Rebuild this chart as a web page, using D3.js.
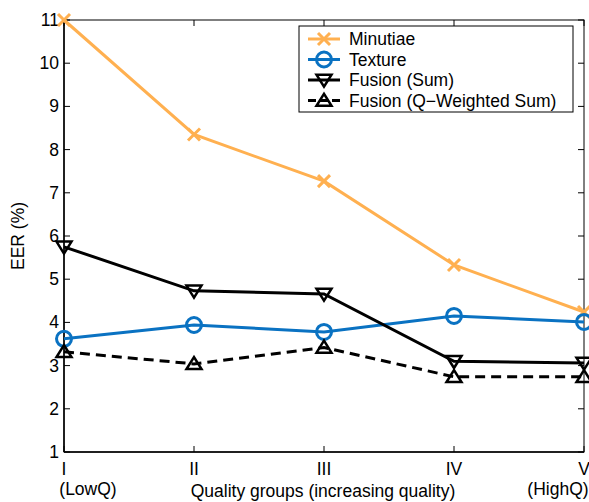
<!DOCTYPE html>
<html>
<head>
<meta charset="utf-8">
<script src="https://cdn.jsdelivr.net/npm/d3@7"></script>
<style>
  body { margin: 0; background: #fff; }
  svg { font-family: "Liberation Sans", Arial, sans-serif; }
</style>
</head>
<body>
<svg id="chart" width="589" height="502"></svg>
<script>
// Data
const groups = ['I', 'II', 'III', 'IV', 'V'];
const minutiae = [11.0, 8.35, 7.27, 5.33, 4.24];
const texture = [3.62, 3.94, 3.78, 4.15, 4.01];
const fusionSum = [5.75, 4.73, 4.66, 3.10, 3.06];
const fusionQW = [3.32, 3.04, 3.42, 2.74, 2.74];
const yTicks = [1, 2, 3, 4, 5, 6, 7, 8, 9, 10, 11];
const subLabels = ['(LowQ)', '', '', '', '(HighQ)'];

const svg = d3.select('#chart');
const mLeft = 64, mRight = 584, mTop = 20, mBottom = 452;
const fs = 17.5;

const x = d3.scalePoint().domain(groups).range([mLeft, mRight]);
const y = d3.scaleLinear().domain([1, 11]).range([mBottom, mTop]);

// Box frame
svg.append('rect')
  .attr('x', mLeft).attr('y', mTop)
  .attr('width', mRight - mLeft).attr('height', mBottom - mTop)
  .attr('fill', 'none').attr('stroke', '#000').attr('stroke-width', 1);
// thicker left/bottom like axes
svg.append('line').attr('x1', mLeft).attr('x2', mLeft).attr('y1', mTop).attr('y2', mBottom)
  .attr('stroke', '#000').attr('stroke-width', 1.5);
svg.append('line').attr('x1', mLeft).attr('x2', mRight).attr('y1', mBottom).attr('y2', mBottom)
  .attr('stroke', '#000').attr('stroke-width', 1.5);

// Y ticks (inward, both sides)
const tickLen = 6;
yTicks.forEach(t => {
  svg.append('line').attr('x1', mLeft).attr('x2', mLeft + tickLen)
    .attr('y1', y(t)).attr('y2', y(t)).attr('stroke', '#000');
  svg.append('line').attr('x1', mRight).attr('x2', mRight - tickLen)
    .attr('y1', y(t)).attr('y2', y(t)).attr('stroke', '#000');
  svg.append('text').attr('x', mLeft - 5).attr('y', y(t) + 6)
    .attr('text-anchor', 'end').attr('font-size', fs).text(t);
});

// X ticks
groups.forEach((g, i) => {
  svg.append('line').attr('x1', x(g)).attr('x2', x(g))
    .attr('y1', mBottom).attr('y2', mBottom - tickLen).attr('stroke', '#000');
  svg.append('line').attr('x1', x(g)).attr('x2', x(g))
    .attr('y1', mTop).attr('y2', mTop + tickLen).attr('stroke', '#000');
  svg.append('text').attr('x', x(g)).attr('y', 475)
    .attr('text-anchor', 'middle').attr('font-size', fs).text(g);
  if (subLabels[i]) {
    svg.append('text').attr('x', i === 0 ? x(g) + 24 : x(g) - 26).attr('y', 495)
      .attr('text-anchor', 'middle').attr('font-size', fs).text(subLabels[i]);
  }
});

// Axis titles
svg.append('text').attr('x', 323).attr('y', 497)
  .attr('text-anchor', 'middle').attr('font-size', fs)
  .text('Quality groups (increasing quality)');
svg.append('text')
  .attr('transform', `translate(24,${(mTop + mBottom) / 2}) rotate(-90)`)
  .attr('text-anchor', 'middle').attr('font-size', fs)
  .text('EER (%)');

// Series
const series = [
  { name: 'Minutiae', values: minutiae, color: '#FFB050', dash: null, marker: 'x' },
  { name: 'Texture', values: texture, color: '#0A72C2', dash: null, marker: 'o' },
  { name: 'Fusion (Sum)', values: fusionSum, color: '#000', dash: null, marker: 'v' },
  { name: 'Fusion (Q\u2212Weighted Sum)', values: fusionQW, color: '#000', dash: '10,6', marker: '^' }
];

const line = d3.line().x((d, i) => x(groups[i])).y(d => y(d));

function drawMarker(g, type, cx, cy, color) {
  if (type === 'x') {
    const s = 6;
    g.append('path')
      .attr('d', `M${cx - s},${cy - s}L${cx + s},${cy + s}M${cx - s},${cy + s}L${cx + s},${cy - s}`)
      .attr('stroke', color).attr('stroke-width', 3).attr('fill', 'none');
  } else if (type === 'o') {
    g.append('circle').attr('cx', cx).attr('cy', cy).attr('r', 7.5)
      .attr('stroke', color).attr('stroke-width', 3).attr('fill', 'none');
  } else if (type === 'v') {
    const s = 7.5;
    g.append('path')
      .attr('d', `M${cx - s},${cy - s * 0.7}L${cx + s},${cy - s * 0.7}L${cx},${cy + s * 0.9}Z`)
      .attr('stroke', color).attr('stroke-width', 2.5).attr('fill', 'none')
      .attr('stroke-linejoin', 'miter');
  } else if (type === '^') {
    const s = 7.5;
    g.append('path')
      .attr('d', `M${cx - s},${cy + s * 0.7}L${cx + s},${cy + s * 0.7}L${cx},${cy - s * 0.9}Z`)
      .attr('stroke', color).attr('stroke-width', 2.5).attr('fill', 'none')
      .attr('stroke-linejoin', 'miter');
  }
}

series.forEach(s => {
  const g = svg.append('g');
  g.append('path').datum(s.values)
    .attr('d', line).attr('fill', 'none')
    .attr('stroke', s.color).attr('stroke-width', 3)
    .attr('stroke-dasharray', s.dash);
  s.values.forEach((v, i) => drawMarker(g, s.marker, x(groups[i]), y(v), s.color));
});

// Legend
const lg = svg.append('g');
lg.append('rect').attr('x', 299).attr('y', 26).attr('width', 274).attr('height', 86)
  .attr('fill', '#fff').attr('stroke', '#000').attr('stroke-width', 1);
series.forEach((s, i) => {
  const ly = 39 + i * 20.5;
  lg.append('line').attr('x1', 308).attr('x2', 340).attr('y1', ly).attr('y2', ly)
    .attr('stroke', s.color).attr('stroke-width', 3)
    .attr('stroke-dasharray', s.dash ? '8,4' : null);
  drawMarker(lg, s.marker, 324, ly, s.color);
  lg.append('text').attr('x', 349).attr('y', ly + 6)
    .attr('font-size', fs).text(s.name);
});
</script>
</body>
</html>
